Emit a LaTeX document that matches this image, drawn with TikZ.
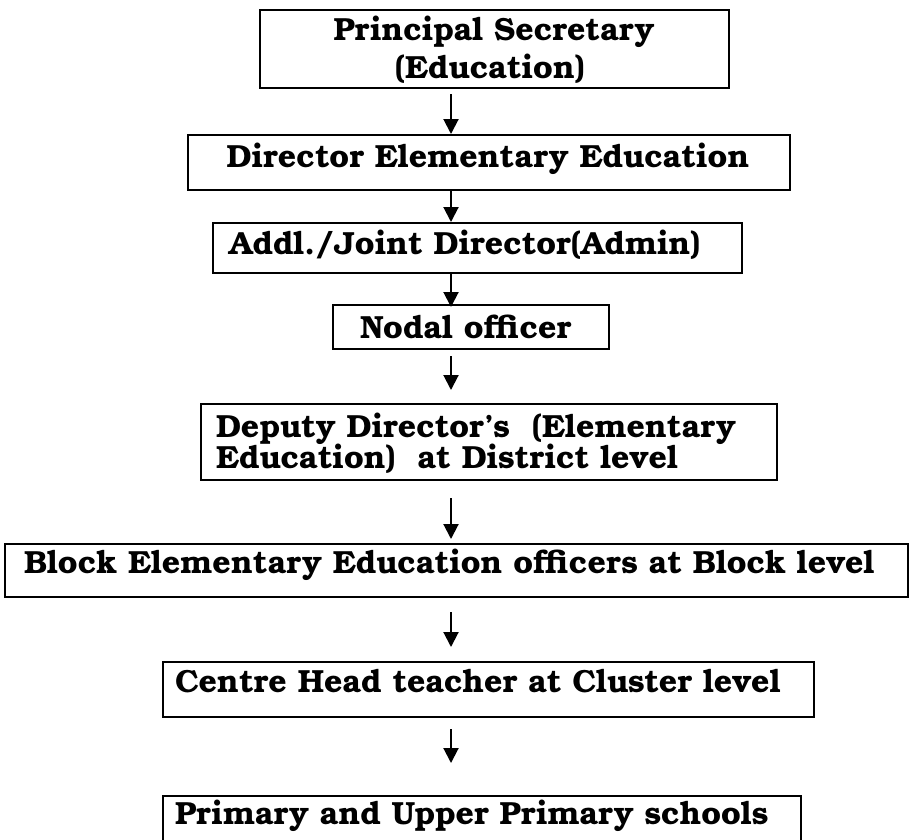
\documentclass[tikz,border=0pt]{standalone}
\usepackage{fontspec}
\setmainfont{texgyrebonum}[Extension=.otf, UprightFont=*-regular, BoldFont=*-bold, ItalicFont=*-italic, BoldItalicFont=*-bolditalic]
\usetikzlibrary{arrows.meta}
\tikzset{
  box/.style={draw, line width=2.3pt, inner sep=0pt, outer sep=0pt, rectangle, anchor=north west},
  lbl/.style={font=\fontsize{32}{38}\selectfont\bfseries, inner sep=0pt, outer sep=0pt},
  arr/.style={line width=2pt, -{Triangle[length=15pt,width=15pt]}}
}
\begin{document}
\begin{tikzpicture}[x=1pt,y=-1pt]
\useasboundingbox[fill=white] (0,0) rectangle (909,839);
% boxes
\node[box, minimum width=469pt, minimum height=78pt] (b1) at (260,10) {};
\node[box, minimum width=602pt, minimum height=55pt] (b2) at (188,135) {};
\node[box, minimum width=529pt, minimum height=50pt] (b3) at (213,223) {};
\node[box, minimum width=276pt, minimum height=44pt] (b4) at (333,305) {};
\node[box, minimum width=576pt, minimum height=76pt] (b5) at (201,404) {};
\node[box, minimum width=903pt, minimum height=53pt] (b6) at (5,544) {};
\node[box, minimum width=651pt, minimum height=55pt] (b7) at (163,662) {};
\node[box, minimum width=638pt, minimum height=50pt] (b8) at (163,796) {};
% labels
\node[lbl, anchor=base] (t1a) at (494,40) {Principal Secretary};
\node[lbl, anchor=base] (t1b) at (490,78) {(Education)};
\node[lbl, anchor=base] (t2) at (488,167) {Director Elementary Education};
\node[lbl, anchor=base west] (t3) at (229,254) {Addl./Joint Director(Admin)};
\node[lbl, anchor=base west] (t4) at (360,338) {Nodal officer};
\node[lbl, anchor=base west] (t5a) at (216,437) {Deputy Director’s\ \ (Elementary};
\node[lbl, anchor=base west] (t5b) at (216,468) {Education)\ \ at District level};
\node[lbl, anchor=base west] (t6) at (24,573) {Block Elementary Education officers at Block level};
\node[lbl, anchor=base west] (t7) at (175,692) {Centre Head teacher at Cluster level};
\node[lbl, anchor=base west] (t8) at (175,824) {Primary and Upper Primary schools};
% connectors
\coordinate (ax) at (451,0);
\draw[arr, shorten <=6pt, shorten >=1pt] (b1.south -| ax) -- (b2.north -| ax);
\draw[arr, shorten <=0pt, shorten >=1pt] (b2.south -| ax) -- (b3.north -| ax);
\draw[arr, shorten <=0pt, shorten >=-2pt] (b3.south -| ax) -- (b4.north -| ax);
\draw[arr, shorten <=7pt, shorten >=14pt] (b4.south -| ax) -- (b5.north -| ax);
\draw[arr, shorten <=18pt, shorten >=5pt] (b5.south -| ax) -- (b6.north -| ax);
\draw[arr, shorten <=15pt, shorten >=15pt] (b6.south -| ax) -- (b7.north -| ax);
\draw[arr, shorten <=12pt, shorten >=33pt] (b7.south -| ax) -- (b8.north -| ax);
\end{tikzpicture}
\end{document}
